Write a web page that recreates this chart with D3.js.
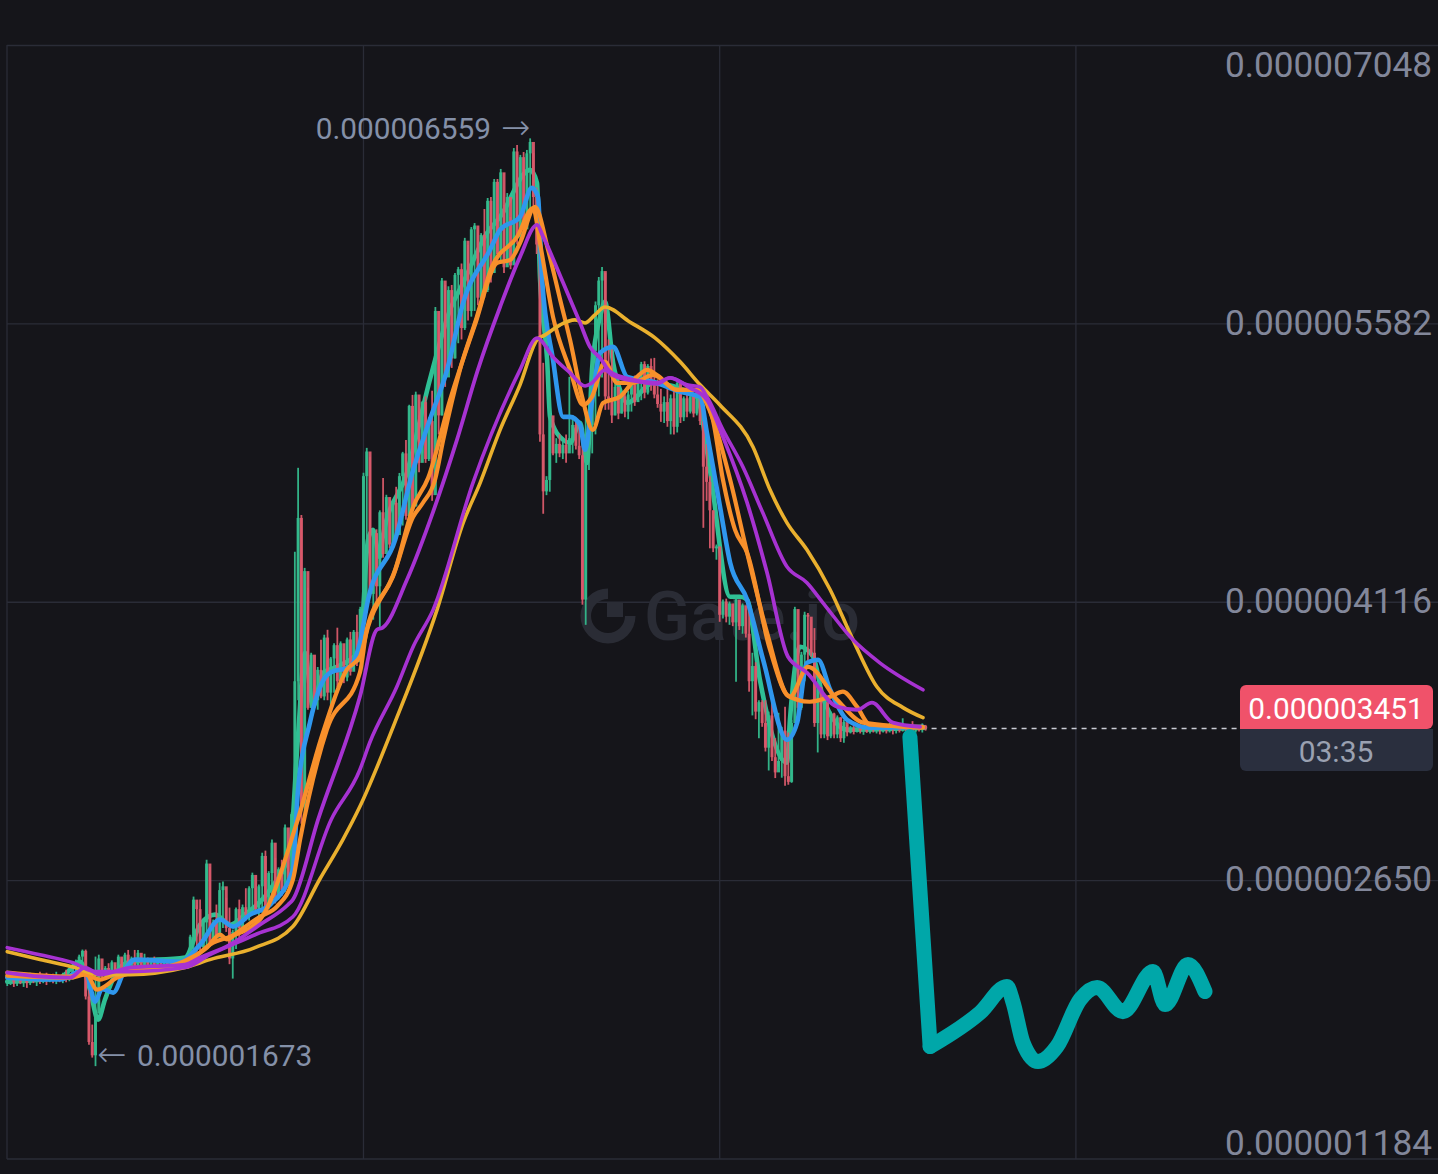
<!DOCTYPE html>
<html><head><meta charset="utf-8">
<script src="https://cdn.jsdelivr.net/npm/d3@7/dist/d3.min.js"></script>
<style>html,body{margin:0;padding:0;background:#15151a;overflow:hidden}svg{display:block}text{font-family:Roboto,sans-serif}</style>
</head><body><svg id="c" width="1438" height="1174"></svg>
<script>
// prices are in units of 1e-9
const priceTicks=[7048,5582,4116,2650,1184];
const tickLabels=["0.000007048","0.000005582","0.000004116","0.000002650","0.000001184"];
const timeTicks=[110,219,328];
const highs=[
2150,2145,2160,2140,2150,2135,2155,2165,2145,2150,
2170,2150,2165,2145,2160,2170,2150,2165,2180,2160,
2192,2234,2260,2287,2287,2076,1892,2250,2260,2190,
2200,2215,2230,2205,2260,2240,2270,2285,2250,2285,
2285,2250,2265,2245,2240,2250,2235,2225,2240,2225,
2230,2225,2235,2225,2240,2235,2365,2566,2520,2550,
2440,2760,2722,2445,2524,2639,2645,2560,2508,2392,
2508,2550,2524,2610,2620,2692,2610,2630,2797,2808,
2700,2866,2770,2720,2760,2945,2800,3010,4382,4824,
4576,4297,4192,3850,3708,3775,3918,3945,3971,3828,
3900,3982,3910,3870,3930,3960,3970,4050,4092,4798,
4929,4882,4497,4500,4600,4770,4682,4577,4650,4724,
4797,4908,4971,5156,5208,5225,5100,5175,5200,5090,
5230,5671,5600,5824,5787,5780,5787,5850,5882,5900,
6035,5998,6092,6113,6085,6060,6187,6245,6250,6345,
6345,6398,6208,6271,6145,6508,6524,6472,6487,6498,
6559,6482,6300,6050,5377,4780,5198,5030,4980,5000,
4960,5000,5303,5100,5080,5050,5000,5129,5100,5460,
5700,5829,5882,5850,5500,5450,5280,5240,5220,5230,
5230,5270,5310,5300,5382,5385,5370,5400,5403,5290,
5240,5200,5240,5210,5250,5287,5250,5200,5210,5220,
5210,5240,5190,5060,4950,4780,4600,4420,4400,4130,
4135,4120,4100,4145,4120,4110,4080,4113,3850,3800,
3600,3600,3600,3540,3620,3400,3534,3460,3566,3430,
3497,4092,3850,3855,4066,4060,4024,3980,3690,3603,
3600,3566,3540,3534,3520,3510,3497,3470,3465,3470,
3450,3462,3458,3470,3455,3465,3460,3475,3465,3470,
3480,3470,3460,3475,3505,3470,3465,3490,3470,3465,3478,3470];
const lows=[
2095,2100,2090,2095,2105,2090,2085,2100,2110,2095,
2105,2110,2100,2115,2110,2105,2115,2110,2115,2120,
2129,2145,2170,2190,2024,1786,1718,1673,2000,2120,
2130,2135,2150,2145,2150,2160,2165,2180,2170,2165,
2165,2170,2180,2185,2190,2180,2190,2195,2190,2200,
2195,2200,2195,2205,2195,2210,2234,2287,2270,2280,
2290,2310,2300,2330,2340,2380,2400,2380,2210,2134,
2290,2350,2400,2440,2440,2470,2480,2450,2480,2490,
2500,2520,2530,2550,2570,2590,2620,2680,2918,3600,
2950,3000,3550,3560,3580,3550,3610,3600,3600,3550,
3640,3670,3680,3690,3700,3730,3760,3780,3850,4129,
4060,4140,4024,4100,3980,4350,4380,4400,4440,4450,
4500,4520,4550,4560,4600,4650,4800,4900,4850,4860,
4650,4880,5000,5100,5250,5330,5350,5400,5480,5500,
5550,5600,5620,5650,5680,5700,5720,5750,5800,5850,
5900,5900,5850,5900,5870,5950,6000,6010,6050,6100,
6150,6200,5950,4961,4582,4680,4698,4890,4850,4880,
4870,4850,4919,4900,4920,4870,4103,3997,4813,4900,
5000,5200,5300,5129,5130,5060,5100,5080,5110,5090,
5080,5120,5150,5170,5180,5190,5210,5230,5190,5140,
5066,5060,5040,5000,5000,5010,5060,5070,5090,5110,
5090,5100,5050,4508,4650,4400,4380,4340,4013,4030,
4010,3997,3990,3697,3970,3950,3930,3645,3520,3500,
3400,3460,3330,3230,3280,3190,3250,3192,3150,3155,
3165,3618,3500,3550,3700,3800,3830,3460,3325,3400,
3400,3390,3400,3400,3400,3380,3376,3410,3425,3420,
3430,3425,3418,3428,3425,3430,3425,3420,3430,3425,
3430,3420,3425,3430,3435,3428,3430,3425,3430,3435,3430,3440];
const closes=[
2120,2135,2115,2130,2115,2125,2110,2140,2125,2135,
2120,2140,2125,2135,2125,2150,2130,2145,2130,2150,
2185,2225,2250,2280,2040,1800,1730,1950,2240,2150,
2190,2150,2220,2170,2250,2190,2260,2200,2240,2190,
2270,2190,2225,2195,2220,2200,2225,2205,2225,2210,
2220,2205,2225,2210,2225,2215,2355,2550,2500,2300,
2430,2740,2320,2430,2350,2600,2620,2400,2240,2380,
2500,2400,2510,2470,2610,2680,2500,2620,2780,2510,
2690,2850,2560,2710,2600,2930,2640,3000,3700,4560,
3050,4280,3560,3840,3600,3760,3620,3930,3640,3820,
3890,3700,3900,3720,3920,3750,3960,3800,4080,4780,
4910,4160,4480,4200,4590,4370,4670,4420,4640,4470,
4780,4900,4570,5150,4620,5210,4850,5170,4870,5070,
4680,5650,5100,5810,5300,5760,5400,5840,5870,5560,
6020,5650,6080,6100,5720,6050,5760,6230,5850,6330,
5950,6380,5880,6250,5890,6490,6040,6460,6080,6480,
6540,6250,6000,5000,4700,4760,5100,4900,4950,4900,
4945,4900,4980,5050,4940,4890,4130,5000,5050,5440,
5680,5810,5860,5200,5180,5100,5250,5110,5200,5120,
5210,5260,5170,5290,5370,5220,5360,5260,5210,5160,
5120,5170,5070,5190,5040,5270,5090,5190,5120,5200,
5110,5220,5070,4830,4750,4600,4400,4410,4050,4120,
4040,4110,4010,4130,3990,4100,3950,3700,3780,3540,
3590,3480,3350,3520,3300,3220,3280,3440,3200,3170,
3480,4080,3560,3840,4050,4040,3850,3480,3670,3420,
3590,3410,3530,3420,3510,3400,3485,3430,3450,3435,
3455,3440,3450,3435,3455,3445,3460,3445,3455,3440,
3465,3445,3455,3440,3470,3445,3460,3440,3455,3445,3465,3451];

const yellowBars=[1,11,21.7,28.8,38.5,55.4,63,76.8,88.4,96.7,103.7,108.9,119.6,132.5,140.5,145.7,151.8,157.9,163.1,165.6,170.2,174.7,177.8,180.8,183.9,191.5,199.2,206.9,213,219,229.2,234.4,239.6,245.7,252.8,259.8,267.1,275.1,281.2];
const yellowValues=[2276,2234,2192,2155,2155,2192,2234,2297,2408,2660,2866,3040,3482,4076,4534,4745,5024,5261,5498,5524,5577,5603,5587,5629,5671,5592,5508,5382,5261,5156,4934,4708,4534,4392,4182,3918,3671,3561,3508];
const purpleFastBars=[1,11,20.2,24.8,29.4,38.5,55.4,60,69.2,78.3,86.9,88.4,96.1,108.9,114.1,115.9,123.3,131.3,138.6,145,151.8,157.9,163.1,165,171.1,176.3,179.3,182.4,185.5,192.5,199.8,203.8,209.9,215.1,220,227.4,233.5,239.9,245.7,254.9,261,265.6,272,280.3];
const purpleFastValues=[2166,2145,2139,2192,2155,2192,2208,2245,2313,2418,2523,2550,2971,3618,3971,3982,4234,4592,4971,5340,5671,5935,6103,6040,5798,5587,5461,5403,5329,5287,5271,5298,5245,5182,4987,4640,4271,3829,3745,3566,3550,3587,3482,3460];
const purpleSlowBars=[1,11,21.1,27.9,38.5,55.4,63,76.8,88.4,100.1,108.9,111.9,120.2,125.2,131.3,143.5,157.9,163.1,168,173.2,177.8,179.9,183.9,186,192.5,199.8,203.8,209,213,215.1,220,226.1,232.2,239.6,245.7,250.6,259.8,268,281.2];
const purpleSlowValues=[2297,2260,2218,2171,2171,2192,2260,2365,2460,2971,3234,3376,3671,3882,4076,4745,5340,5508,5408,5324,5255,5271,5340,5313,5282,5266,5298,5261,5250,5198,5024,4829,4587,4303,4219,4113,3918,3797,3655];
const orangeABars=[1,20.2,24.8,28.5,34.6,54.8,62.1,66.1,68.2,71.3,78.3,83.5,88.4,90.6,98.8,108.9,111,119,125.2,128.2,131.9,134.4,139.5,144.7,149.3,157,161.9,164,168,173.2,177.2,179.9,183.9,187.6,192.5,198.6,206,212,216.7,222.2,227.4,233.5,239.6,242.7,246.6,252.8,256.7,261,265,281.2];
const orangeAValues=[2166,2145,2171,2076,2139,2223,2297,2366,2340,2376,2460,2513,2655,2866,3445,3745,3971,4250,4566,4640,4761,4971,5340,5619,5882,6040,6192,6008,5619,5340,5155,5198,5382,5271,5271,5313,5234,5234,5092,4761,4376,3955,3629,3603,3592,3618,3645,3566,3471,3460];
const orangeBBars=[1,20.2,24.8,29.4,35.5,54.8,64,69.2,78.3,89.6,97.6,104.9,108.9,111.4,119.7,125.2,129.8,136.5,144.1,150.9,154.9,157.9,162.5,166.5,170.2,173.2,176.9,180.2,183.3,188.5,193.7,196.8,199.8,206,212,216.7,220,223.7,227.4,234.4,240.5,246,254.9,262.9,281.2];
const orangeBValues=[2150,2139,2155,2129,2171,2208,2323,2355,2445,2955,3429,3761,3829,3987,4287,4618,4771,5182,5577,5903,5919,6008,6198,5971,5708,5498,5198,5024,5166,5198,5303,5340,5313,5234,5234,5092,4761,4497,4376,3866,3618,3776,3603,3482,3455];
const blueBars=[1,17.1,24.8,27.9,30,33.4,37,40,53.9,60,66.1,70.1,75.3,81.4,88.4,89.9,93.6,98.2,99.8,105.9,108.9,111.4,119.7,125.2,130.3,135.6,140.5,148.7,151.8,157.9,161.5,163.4,164.6,168,171.1,173.2,176.3,177.8,180,182.4,186.4,190.7,198.6,206.9,213,215.1,219,222.2,227.4,232.3,239.6,242.7,245.7,249.1,252.8,258,265,281.2];
const blueValues=[2139,2129,2182,2013,2080,2060,2182,2234,2223,2313,2445,2408,2471,2523,2708,3113,3482,3719,3745,3776,3903,4129,4445,4813,5077,5340,5693,5971,6077,6145,6298,6250,5829,5392,5092,5092,5050,4919,5182,5429,5461,5303,5277,5224,5198,5008,4629,4324,4129,3813,3392,3482,3797,3813,3655,3497,3455,3460];
const greenBars=[1,17.1,23.3,26.3,28.8,30.9,34,38.5,55.4,60,64.6,69.2,73.7,81.4,87.5,89.9,92.1,94.5,97.6,101.9,108.9,111.4,112.9,115,115.9,123.3,130.3,136.5,140.5,147.8,151.8,161,163.1,164,166.2,167.1,171.1,173.2,176.3,178.4,180,182.4,183.9,186.4,188.5,190.7,198.6,212,216,222.2,225.2,227.4,231.3,239.6,240.5,243.6,247.6,250.8,258,281.8];
const greenValues=[2118,2139,2223,2076,1918,2024,2155,2223,2245,2418,2471,2418,2471,2602,2813,3392,3850,3566,3745,3776,3866,4445,4497,4355,4461,4798,5287,5656,5798,6061,6145,6393,6324,5829,5392,5092,4971,4955,5061,4850,5355,5619,5698,5377,5234,5166,5271,5198,4813,4145,4145,4129,3708,3271,3497,3882,3829,3603,3445,3455];
const sketchBars=[277.2,283.4,298.7,306.9,308.8,311.8,316.4,322.2,329.3,334.5,342.4,351.6,355.3,362.3,367.5];
const sketchValues=[3408,1776,1955,2092,2007,1797,1697,1776,2024,2087,1960,2171,1997,2208,2066];
const lastPrice=3451, peakPrice=6559, troughPrice=1673;

const svg=d3.select("#c");
svg.append("rect").attr("width",1438).attr("height",1174).attr("fill","#15151a");
const x=d3.scaleLinear().domain([0,440]).range([4,4+3.268*440]);
const y=d3.scaleLinear().domain([1184,7048]).range([1159,45.5]);
const GRID="#2a2c37";
// grid
const g=svg.append("g");
g.selectAll("line.h").data(priceTicks).join("line").attr("class","h")
 .attr("x1",7).attr("x2",1438).attr("y1",d=>y(d)).attr("y2",d=>y(d)).attr("stroke",GRID).attr("stroke-width",1.3);
g.selectAll("line.v").data(timeTicks).join("line").attr("class","v")
 .attr("x1",d=>x(d)).attr("x2",d=>x(d)).attr("y1",45).attr("y2",1159).attr("stroke",GRID).attr("stroke-width",1.3);
g.append("line").attr("x1",7).attr("x2",7).attr("y1",45).attr("y2",1159).attr("stroke",GRID).attr("stroke-width",1.3);
// watermark
const wm=svg.append("g");
wm.append("path").attr("d",d3.arc()({innerRadius:17,outerRadius:27.5,startAngle:Math.PI/2,endAngle:Math.PI*2}))
 .attr("transform","translate(608,616)").attr("fill","#2a2c35");
wm.append("rect").attr("x",607).attr("y",602).attr("width",16).attr("height",15).attr("fill","#2a2c35");
wm.append("text").attr("x",644).attr("y",640).attr("font-size",68).attr("font-weight",500)
 .attr("textLength",216).attr("lengthAdjust","spacingAndGlyphs").attr("fill","#2a2c35").text("Gate.io");
// moving averages
const line=d3.line().x(d=>x(d[0])).y(d=>y(d[1])).curve(d3.curveMonotoneX);
function drawLine(b,v,col,w){
 svg.append("path").datum(b.map((d,i)=>[d,v[i]])).attr("d",line)
  .attr("fill","none").attr("stroke",col).attr("stroke-width",w).attr("stroke-linejoin","round").attr("stroke-linecap","round");
}
drawLine(greenBars,greenValues,"#2fc095",4.6);
// candles
const UP="#34bb8d",DOWN="#d95a6b";
const bars=highs.map((h,i)=>({i:i+1,h,l:lows[i],c:closes[i],o:i?closes[i-1]:closes[i]}));
const cg=svg.append("g");
cg.selectAll("line").data(bars).join("line")
 .attr("x1",d=>x(d.i)).attr("x2",d=>x(d.i)).attr("y1",d=>y(d.h)).attr("y2",d=>y(d.l))
 .attr("stroke",d=>d.c>=d.o?UP:DOWN).attr("stroke-width",1.8).attr("opacity",.95);
cg.selectAll("rect").data(bars).join("rect")
 .attr("x",d=>x(d.i)-1.5).attr("width",3)
 .attr("y",d=>y(Math.max(d.o,d.c))).attr("height",d=>Math.max(1.5,Math.abs(y(d.o)-y(d.c))))
 .attr("fill",d=>d.c>=d.o?UP:DOWN).attr("opacity",.95);
drawLine(blueBars,blueValues,"#2f97ee",4.6);
drawLine(orangeABars,orangeAValues,"#f8902b",4.2);
drawLine(orangeBBars,orangeBValues,"#f8902b",4.2);
drawLine(yellowBars,yellowValues,"#eab02e",3.6);
drawLine(purpleSlowBars,purpleSlowValues,"#a732d2",3.6);
drawLine(purpleFastBars,purpleFastValues,"#a732d2",3.8);
// hand-drawn overlay: a straight first stroke, then the wiggle from its sharp corner
drawLine(sketchBars.slice(0,2),sketchValues.slice(0,2),"#00a7a9",15);
drawLine(sketchBars.slice(1),sketchValues.slice(1),"#00a7a9",15);
// last price line
svg.append("line").attr("x1",x(282)+6).attr("x2",1240).attr("y1",y(lastPrice)).attr("y2",y(lastPrice))
 .attr("stroke","#c9ccd4").attr("stroke-width",1.4).attr("stroke-dasharray","5 5");
// axis
const labelShift=[18.5,-2,-2,-2,-17];
const axis=d3.axisRight(y).tickValues(priceTicks).tickSize(0).tickFormat((d,i)=>tickLabels[i]);
const ax=svg.append("g").attr("transform","translate(1226,0)").call(axis);
ax.select(".domain").remove();
ax.selectAll("text").attr("x",206).attr("text-anchor","end").attr("fill","#82879a")
 .attr("font-size",35.2).attr("font-family","Roboto,sans-serif").attr("font-weight",400)
 .attr("dy",(d,i)=>(labelShift[i]+12.3)+"px");
// price tags
svg.append("path").attr("d","M1240,729V691a6,6 0 0 1 6,-6H1427a6,6 0 0 1 6,6V723a6,6 0 0 1 -6,6Z").attr("fill","#f0526a");
svg.append("path").attr("d","M1240,729H1433V765a6,6 0 0 1 -6,6H1246a6,6 0 0 1 -6,-6Z").attr("fill","#2a2f3e");
svg.append("text").attr("x",1336).attr("y",719).attr("text-anchor","middle").attr("fill","#fff").attr("font-size",29.8).text("0.000003451");
svg.append("text").attr("x",1336).attr("y",762).attr("text-anchor","middle").attr("fill","#9aa1b1").attr("font-size",30).text("03:35");
// extremes
const AN="#8490a8";
svg.append("text").attr("x",491).attr("y",139).attr("text-anchor","end").attr("fill",AN).attr("font-size",29.8).text("0.000006559");
svg.append("text").attr("x",501).attr("y",139).attr("fill",AN).attr("font-size",35).attr("font-weight",300).style("font-family","'DejaVu Sans'").text("→");
svg.append("text").attr("x",97).attr("y",1066).attr("fill",AN).attr("font-size",35).attr("font-weight",300).style("font-family","'DejaVu Sans'").text("←");
svg.append("text").attr("x",137).attr("y",1066).attr("fill",AN).attr("font-size",29.8).text("0.000001673");
</script></body></html>
